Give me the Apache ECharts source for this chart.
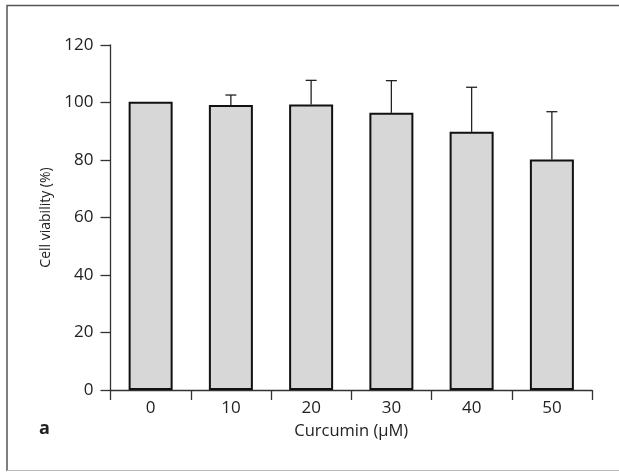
<!DOCTYPE html>
<html>
<head>
<meta charset="utf-8">
<script src="https://cdn.jsdelivr.net/npm/echarts@6/dist/echarts.min.js"></script>
<style>
html,body{margin:0;padding:0;background:#fff;}
#chart{width:619px;height:472px;}
</style>
</head>
<body>
<div id="chart"></div>
<script>
var categories = ['0', '10', '20', '30', '40', '50'];
var viability = [100.3, 99.1, 99.3, 96.4, 89.8, 80.2];
var sdUpper = [0, 3.5, 8.4, 11.2, 15.5, 16.6];
var yTicks = { min: 0, max: 120, interval: 20 };

var FONT = '"Open Sans", sans-serif';
var chart = echarts.init(document.getElementById('chart'));

var errData = viability.map(function (v, i) { return [i, v, v + sdUpper[i]]; });

chart.setOption({
  animation: false,
  backgroundColor: '#fff',
  grid: { left: 110.5, right: 27, top: 45, bottom: 82 },
  xAxis: {
    type: 'category',
    data: categories,
    name: 'Curcumin (\u03bcM)',
    nameLocation: 'middle',
    nameGap: 33,
    nameTextStyle: { fontFamily: FONT, fontSize: 16.5, color: '#222' },
    axisLine: { lineStyle: { color: '#333', width: 1.3 } },
    axisTick: { show: true, length: 10, alignWithLabel: false, lineStyle: { color: '#333', width: 1.3 } },
    axisLabel: { margin: 10, fontFamily: FONT, fontSize: 17, color: '#222' },
    splitLine: { show: false }
  },
  yAxis: {
    type: 'value',
    min: yTicks.min, max: yTicks.max, interval: yTicks.interval,
    name: 'Cell viability (%)',
    nameLocation: 'middle',
    nameGap: 57,
    nameRotate: 90,
    nameTextStyle: { fontFamily: FONT, fontSize: 14, color: '#222' },
    axisLine: { show: true, lineStyle: { color: '#333', width: 1.3 } },
    axisTick: { show: true, length: 10, lineStyle: { color: '#333', width: 1.3 } },
    axisLabel: { margin: 17, fontFamily: FONT, fontSize: 17, color: '#222' },
    splitLine: { show: false }
  },
  series: [
    {
      type: 'bar',
      data: viability,
      barWidth: 44,
      itemStyle: { color: '#d7d7d7', borderColor: '#111', borderWidth: 2 },
      z: 2
    },
    {
      type: 'custom',
      data: errData,
      z: 1,
      renderItem: function (params, api) {
        var i = api.value(0);
        if (api.value(2) <= api.value(1) + 0.01) return null;
        var p0 = api.coord([i, api.value(1)]);
        var p1 = api.coord([i, api.value(2)]);
        var half = 5.5;
        return {
          type: 'group',
          children: [
            { type: 'line', shape: { x1: p0[0], y1: p0[1], x2: p1[0], y2: p1[1] }, style: { stroke: '#222', lineWidth: 1.3 } },
            { type: 'line', shape: { x1: p1[0] - half, y1: p1[1], x2: p1[0] + half, y2: p1[1] }, style: { stroke: '#222', lineWidth: 1.3 } }
          ]
        };
      }
    }
  ],
  graphic: [
    { type: 'polyline', shape: { points: [[7, 471], [7, 5.5], [619, 5.5]] }, style: { stroke: '#555', lineWidth: 1.5, fill: null }, silent: true },
    { type: 'line', shape: { x1: 7, y1: 470.5, x2: 619, y2: 470.5 }, style: { stroke: '#bbb', lineWidth: 1 }, silent: true },
    { type: 'text', left: 39, top: 420, style: { text: 'a', font: 'bold 18px ' + FONT, fill: '#222' } }
  ]
});
</script>
</body>
</html>
